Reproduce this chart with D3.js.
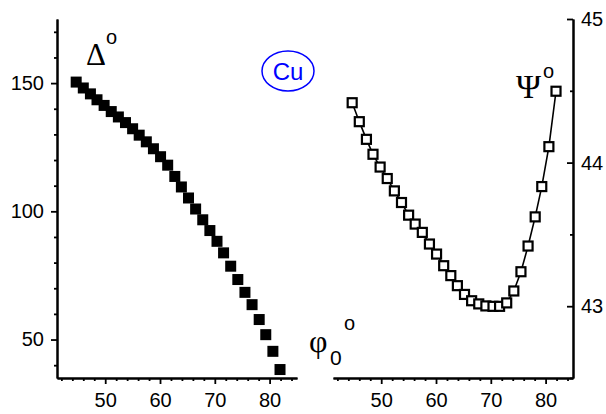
<!DOCTYPE html>
<html>
<head>
<meta charset="utf-8">
<script src="https://cdn.jsdelivr.net/npm/d3@7"></script>
<style>
  html, body { margin: 0; padding: 0; background: #fff; }
  svg { display: block; }
</style>
</head>
<body>
<svg id="chart" width="606" height="414"></svg>
<script>
// Angle of incidence φ0 (degrees)
const angles = [44.7, 46.0, 47.3, 48.5, 49.8, 51.1, 52.4, 53.7, 55.0, 56.2,
                57.5, 58.8, 60.1, 61.4, 62.7, 63.9, 65.2, 66.5, 67.8, 69.1,
                70.4, 71.6, 72.9, 74.2, 75.5, 76.8, 78.1, 79.3, 80.6, 81.9];
// Ellipsometric angle Δ (degrees)
const delta = [150.4, 148.1, 145.8, 143.5, 141.3, 138.9, 136.8, 134.6, 132.2, 129.7,
               127.1, 124.4, 121.3, 118.0, 113.6, 109.5, 105.2, 100.9, 96.7, 92.5,
               88.3, 83.8, 78.6, 73.4, 68.4, 63.6, 57.8, 51.9, 45.4, 38.3];
// Ellipsometric angle Ψ (degrees)
const psi = [44.417, 44.285, 44.162, 44.058, 43.969, 43.889, 43.803, 43.722, 43.634, 43.572,
             43.514, 43.433, 43.363, 43.282, 43.213, 43.143, 43.082, 43.038, 43.016, 43.002,
             42.999, 42.999, 43.023, 43.106, 43.240, 43.419, 43.622, 43.833, 44.111, 44.497];

const xMajor = [50, 60, 70, 80];
const xMinor = [42, 44, 46, 48, 52, 54, 56, 58, 62, 64, 66, 68, 72, 74, 76, 78, 82, 84];
const deltaMajor = [50, 100, 150];
const deltaMinor = [40, 60, 70, 80, 90, 110, 120, 130, 140, 160, 170];
const psiMajor = [43, 44, 45];
const psiMinor = [42.5, 43.5, 44.5];

const svg = d3.select("#chart");
const sans = '"Liberation Sans", Arial, sans-serif';
const serif = '"Liberation Serif", "Times New Roman", serif';
const intFmt = d3.format("d");

const xLeft = d3.scaleLinear().domain([41.2, 85]).range([57, 297]);
const xRight = d3.scaleLinear().domain([41.2, 85]).range([333, 573]);
const yDelta = d3.scaleLinear().domain([35, 175]).range([378, 19]);
const yPsi = d3.scaleLinear().domain([42.5, 45]).range([378, 19]);

function styleAxis(g) {
  g.select(".domain").attr("stroke", "#000").attr("stroke-width", 2);
  g.selectAll(".tick line").attr("stroke", "#000").attr("stroke-width", 1.8);
}

function drawAxis(axisFn, scale, majors, minors, transform, pad) {
  const gMinor = svg.append("g").attr("transform", transform)
    .call(axisFn(scale).tickValues(minors).tickSize(3).tickSizeOuter(0).tickFormat(""));
  styleAxis(gMinor);
  const gMajor = svg.append("g").attr("transform", transform)
    .call(axisFn(scale).tickValues(majors).tickSize(6).tickSizeOuter(0)
      .tickPadding(pad).tickFormat(intFmt));
  styleAxis(gMajor);
  gMajor.selectAll(".tick text").attr("fill", "#000")
    .style("font-family", sans).style("font-size", "20px");
  return [gMinor, gMajor];
}

// Left panel axes
drawAxis(d3.axisBottom, xLeft, xMajor, xMinor, "translate(0,378)", 9);
drawAxis(d3.axisLeft, yDelta, deltaMajor, deltaMinor, "translate(57,0)", 7);

// Right panel axes: ticks point inward, labels outside
drawAxis(d3.axisBottom, xRight, xMajor, xMinor, "translate(0,378)", 9);
const psiAxis = drawAxis(d3.axisRight, yPsi, psiMajor, psiMinor, "translate(573,0)", 8);
psiAxis.forEach((g) => g.selectAll(".tick line")
  .attr("x2", function () { return -(+d3.select(this).attr("x2")); }));
psiAxis[1].selectAll(".tick text").attr("x", 8);

// Δ: filled squares
const s1 = 11;
svg.append("g").selectAll("rect").data(angles).join("rect")
  .attr("x", (d) => xLeft(d) - s1 / 2)
  .attr("y", (d, i) => yDelta(delta[i]) - s1 / 2)
  .attr("width", s1).attr("height", s1)
  .attr("fill", "#000");

// Ψ: connecting line and open squares
const line = d3.line().x((d) => xRight(d[0])).y((d) => yPsi(d[1]));
svg.append("path").datum(angles.map((a, i) => [a, psi[i]]))
  .attr("d", line).attr("fill", "none").attr("stroke", "#000").attr("stroke-width", 1.6);
const s2 = 9;
svg.append("g").selectAll("rect").data(angles).join("rect")
  .attr("x", (d) => xRight(d) - s2 / 2)
  .attr("y", (d, i) => yPsi(psi[i]) - s2 / 2)
  .attr("width", s2).attr("height", s2)
  .attr("fill", "#fff").attr("stroke", "#000").attr("stroke-width", 2.2);

// Axis titles
svg.append("text").attr("x", 86).attr("y", 65).attr("font-family", serif)
  .attr("font-size", 31).text("Δ");
svg.append("text").attr("x", 106).attr("y", 44).attr("font-family", sans)
  .attr("font-size", 20).text("o");

svg.append("text").attr("x", 516).attr("y", 98).attr("font-family", serif)
  .attr("font-size", 34).text("Ψ");
svg.append("text").attr("x", 543).attr("y", 78).attr("font-family", sans)
  .attr("font-size", 20).text("o");

svg.append("text").attr("x", 309).attr("y", 352).attr("font-family", serif)
  .attr("font-size", 32).text("φ");
svg.append("text").attr("x", 330).attr("y", 365).attr("font-family", sans)
  .attr("font-size", 21).text("0");
svg.append("text").attr("x", 344).attr("y", 330).attr("font-family", sans)
  .attr("font-size", 20).text("o");

// Material label
svg.append("ellipse").attr("cx", 288).attr("cy", 71).attr("rx", 26).attr("ry", 20)
  .attr("fill", "none").attr("stroke", "#0000ff").attr("stroke-width", 1.5);
svg.append("text").attr("x", 288).attr("y", 80).attr("text-anchor", "middle")
  .attr("font-family", sans).attr("font-size", 24).attr("fill", "#0000ff").text("Cu");
</script>
</body>
</html>
